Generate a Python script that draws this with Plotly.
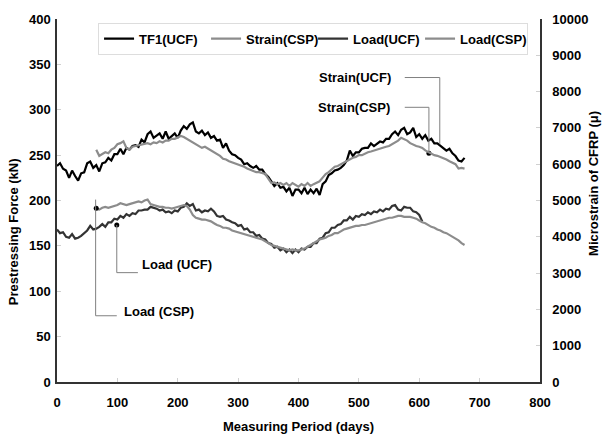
import plotly.graph_objects as go

# ---------------- data ----------------
# Measurement days (5-day sampling)
DAYS = [0, 5, 10, 15, 20, 25, 30, 35, 40, 45, 50, 55, 60, 65, 70, 75, 80, 85, 90, 95,
        100, 105, 110, 115, 120, 125, 130, 135, 140, 145, 150, 155, 160, 165, 170, 175, 180, 185, 190, 195,
        200, 205, 210, 215, 220, 225, 230, 235, 240, 245, 250, 255, 260, 265, 270, 275, 280, 285, 290, 295,
        300, 305, 310, 315, 320, 325, 330, 335, 340, 345, 350, 355, 360, 365, 370, 375, 380, 385, 390, 395,
        400, 405, 410, 415, 420, 425, 430, 435, 440, 445, 450, 455, 460, 465, 470, 475, 480, 485, 490, 495,
        500, 505, 510, 515, 520, 525, 530, 535, 540, 545, 550, 555, 560, 565, 570, 575, 580, 585, 590, 595,
        600, 605, 610, 615, 620, 625, 630, 635, 640, 645, 650, 655, 660, 665, 670, 675]

# Strain of CFRP, UCF (legend "TF1(UCF)") - microstrain, starts day 0
strain_ucf = [5950, 6025, 5875, 5825, 5625, 5825, 5675, 5550, 5750, 5775,
              6025, 6075, 5900, 5975, 5800, 6025, 6050, 6175, 6100, 6275,
              6275, 6425, 6275, 6450, 6400, 6500, 6525, 6475, 6675, 6600,
              6825, 6900, 6725, 6800, 6850, 6700, 6900, 6700, 6775, 6850,
              6725, 6925, 7050, 6975, 7100, 7150, 6900, 6850, 6925, 6800,
              6875, 6725, 6775, 6650, 6675, 6450, 6575, 6375, 6275, 6250,
              6175, 6125, 6000, 6025, 5950, 5900, 5950, 5850, 5850, 5725,
              5650, 5525, 5400, 5475, 5350, 5375, 5250, 5350, 5125, 5300,
              5300, 5200, 5350, 5175, 5300, 5200, 5325, 5150, 5450, 5525,
              5700, 5750, 5825, 5850, 5900, 5975, 6100, 6375, 6225, 6325,
              6325, 6425, 6450, 6450, 6575, 6500, 6575, 6625, 6600, 6700,
              6700, 6825, 6900, 6800, 6950, 7000, 6825, 6875, 7000, 6750,
              6825, 6700, 6800, 6650, 6700, 6575, 6575, 6500, 6450, 6375,
              6425, 6300, 6225, 6100, 6075, 6175]

# Strain of CFRP, CSP - microstrain, starts day 65
strain_csp = [6400, 6230, 6280, 6330, 6300, 6400, 6450, 6550, 6580, 6630, 6450, 6400, 6480, 6500, 6530, 6550, 6550, 6580, 6550, 6600,
              6580, 6630, 6600, 6650, 6650, 6700, 6700, 6750, 6780, 6750, 6700, 6650, 6580, 6530, 6500, 6450, 6480, 6430, 6400, 6350,
              6300, 6230, 6150, 6130, 6080, 6050, 6030, 5980, 5950, 5930, 5880, 5850, 5830, 5780, 5780, 5750, 5730, 5600, 5480, 5500,
              5450, 5480, 5430, 5480, 5400, 5480, 5430, 5380, 5450, 5400, 5480, 5400, 5450, 5480, 5530, 5630, 5730, 5780, 5850, 5930,
              5950, 6000, 6050, 6100, 6150, 6180, 6200, 6250, 6250, 6300, 6330, 6350, 6380, 6400, 6430, 6450, 6480, 6500, 6550, 6600,
              6650, 6730, 6700, 6650, 6580, 6530, 6500, 6480, 6450, 6380, 6330, 6300, 6250, 6230, 6200, 6150, 6130, 6080, 6030, 6000,
              5880, 5900, 5880]

# Prestressing force, UCF load cell - kN, starts day 0
load_ucf = [168, 164, 165, 160, 159, 163, 158, 159, 161, 164,
            167, 172, 168, 169, 171, 174, 171, 176, 176, 180,
            179, 183, 181, 185, 183, 186, 185, 189, 189, 190,
            190, 193, 192, 191, 189, 190, 187, 188, 186, 189,
            188, 192, 193, 197, 194, 196, 189, 190, 187, 189,
            188, 191, 188, 183, 182, 183, 179, 178, 176, 175,
            172, 173, 168, 169, 165, 165, 161, 162, 158, 157,
            153, 152, 148, 149, 145, 147, 143, 146, 142, 146,
            143, 147, 146, 149, 149, 153, 153, 158, 159, 164,
            165, 170, 170, 173, 174, 178, 178, 182, 179, 183,
            182, 185, 184, 187, 185, 188, 187, 190, 188, 191,
            190, 194, 195, 190, 189, 193, 192, 192, 188, 187,
            184, 177]

# Prestressing force, CSP - kN, starts day 65
load_csp = [191, 190, 192, 193, 192, 193, 194, 195, 197, 196, 195, 196, 197, 198, 199, 198, 200, 201, 196, 195,
            194, 193, 193, 192, 192, 191, 192, 193, 194, 195, 194, 190, 184, 181, 180, 179, 179, 178, 177, 175,
            173, 172, 170, 170, 169, 167, 166, 165, 164, 163, 162, 161, 160, 159, 158, 157, 155, 153, 151, 150,
            149, 148, 147, 146, 145, 146, 145, 145, 146, 147, 149, 151, 153, 155, 157, 158, 159, 161, 162, 164,
            164, 166, 168, 169, 170, 171, 172, 172, 173, 173, 174, 175, 176, 177, 178, 179, 180, 181, 181, 182,
            183, 183, 182, 182, 182, 181, 180, 178, 176, 175, 173, 171, 170, 168, 167, 165, 164, 162, 160, 158,
            156, 153, 151]

START_UCF, START_CSP = 0, 65

SERIES_NAMES = ["TF1(UCF)", "Strain(CSP)", "Load(UCF)", "Load(CSP)"]
COLORS = ["#000000", "#8c8c8c", "#333333", "#8c8c8c"]

CALLOUT_TEXT = ["Strain(UCF)", "Strain(CSP)", "Load (UCF)", "Load (CSP)"]
# callout anchor dots (day, kN)
CALLOUT_DOT_DAYS = [616, 99, 65]
CALLOUT_DOT_KN = [252, 173, 191.5]


def xs(start, vals):
    i = DAYS.index(start)
    return DAYS[i:i + len(vals)]


FONT = dict(family="Liberation Sans, Arial, sans-serif", size=13, color="#000000", weight="bold")

fig = go.Figure()
fig.add_trace(go.Scatter(x=xs(START_UCF, strain_ucf), y=strain_ucf, name=SERIES_NAMES[0], yaxis="y2",
                         mode="lines", line=dict(color=COLORS[0], width=2.2)))
fig.add_trace(go.Scatter(x=xs(START_CSP, strain_csp), y=strain_csp, name=SERIES_NAMES[1], yaxis="y2",
                         mode="lines", line=dict(color=COLORS[1], width=2.2)))
fig.add_trace(go.Scatter(x=xs(START_UCF, load_ucf), y=load_ucf, name=SERIES_NAMES[2],
                         mode="lines", line=dict(color=COLORS[2], width=2.2)))
fig.add_trace(go.Scatter(x=xs(START_CSP, load_csp), y=load_csp, name=SERIES_NAMES[3],
                         mode="lines", line=dict(color=COLORS[3], width=2.2)))

# ---- callouts (leader lines on the kN scale) ----
LEAD = dict(color="#808080", width=1)
fig.add_shape(type="line", xref="x", yref="y", x0=634, y0=262, x1=634, y1=335.5, line=LEAD)
fig.add_shape(type="line", xref="x", yref="y", x0=576, y0=335.5, x1=634, y1=335.5, line=LEAD)
fig.add_shape(type="line", xref="x", yref="y", x0=616, y0=253, x1=616, y1=302.7, line=LEAD)
fig.add_shape(type="line", xref="x", yref="y", x0=576, y0=302.7, x1=616, y1=302.7, line=LEAD)
fig.add_shape(type="line", xref="x", yref="y", x0=99, y0=173, x1=99, y1=120.5, line=LEAD)
fig.add_shape(type="line", xref="x", yref="y", x0=99, y0=120.5, x1=134, y1=120.5, line=LEAD)
fig.add_shape(type="line", xref="x", yref="y", x0=64, y0=201, x1=64, y1=73, line=LEAD)
fig.add_shape(type="line", xref="x", yref="y", x0=64, y0=73, x1=99, y1=73, line=LEAD)

fig.add_trace(go.Scatter(x=CALLOUT_DOT_DAYS, y=CALLOUT_DOT_KN, mode="markers", showlegend=False,
                         marker=dict(color="#000000", size=5), hoverinfo="skip"))

fig.add_annotation(x=556, y=335.5, xref="x", yref="y", text=CALLOUT_TEXT[0], showarrow=False,
                   xanchor="right", yanchor="middle", font=FONT)
fig.add_annotation(x=555, y=302.7, xref="x", yref="y", text=CALLOUT_TEXT[1], showarrow=False,
                   xanchor="right", yanchor="middle", font=FONT)
fig.add_annotation(x=137, y=129, xref="x", yref="y", text=CALLOUT_TEXT[2], showarrow=False,
                   xanchor="left", yanchor="middle", font=FONT)
fig.add_annotation(x=107, y=78, xref="x", yref="y", text=CALLOUT_TEXT[3], showarrow=False,
                   xanchor="left", yanchor="middle", font=FONT)

# axis titles
fig.add_annotation(x=-0.091, y=0.413, xref="paper", yref="paper", text="Prestressing Force (kN)",
                   textangle=-90, showarrow=False, font=FONT, xanchor="center", yanchor="middle")
fig.add_annotation(x=1.112, y=0.546, xref="paper", yref="paper", text="Microstrain of CFRP (\u03bc)",
                   textangle=-90, showarrow=False, font=FONT, xanchor="center", yanchor="middle")
fig.add_annotation(x=0.501, y=-0.123, xref="paper", yref="paper", text="Measuring Period (days)",
                   showarrow=False, font=FONT, xanchor="center", yanchor="middle")

AX = dict(showline=True, linecolor="#333333", linewidth=1.5, showgrid=False, zeroline=False,
          ticks="inside", ticklen=4, tickcolor="#d0d0d0", tickwidth=1, tickfont=FONT)

fig.update_layout(
    width=608, height=441,
    margin=dict(l=57, r=68, t=16, b=59),
    paper_bgcolor="white", plot_bgcolor="white",
    xaxis=dict(range=[0, 800], dtick=100, ticklabelstandoff=8, **AX),
    yaxis=dict(range=[0, 400], dtick=50, ticklabelstandoff=2, **AX),
    yaxis2=dict(range=[0, 10000], dtick=1000, overlaying="y", side="right", ticklabelstandoff=8,
                tickformat="d", **AX),
    legend=dict(orientation="h", x=0.085, xanchor="left", y=0.99, yanchor="top",
                bordercolor="#dddddd", borderwidth=1, bgcolor="white", font=FONT,
                itemwidth=30, entrywidth=62, entrywidthmode="pixels"),
    showlegend=True,
)

fig.write_html("out.html", config={"displayModeBar": False},
               post_script="document.body.style.margin='0';")
